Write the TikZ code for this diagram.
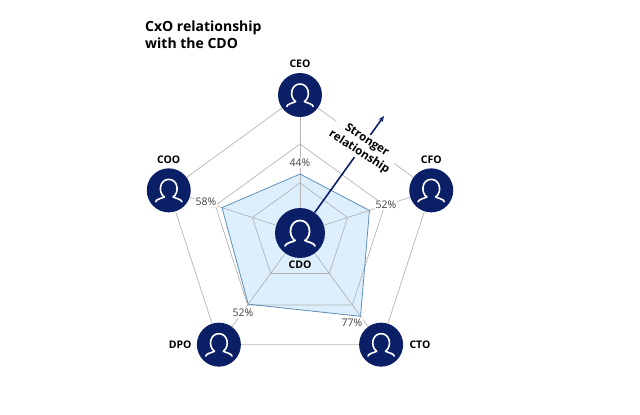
\documentclass[tikz,border=0pt]{standalone}
\usepackage{fontspec}
\setmainfont{Open Sans}
\usetikzlibrary{positioning,arrows.meta,backgrounds}
\definecolor{navy}{HTML}{0B1F66}
\definecolor{webgrey}{HTML}{B4B4B4}
\definecolor{areafill}{HTML}{DDEFFC}
\definecolor{arealine}{HTML}{5E8FB8}
\definecolor{pcttext}{HTML}{404040}
\def\person{(-0.6,-0.52) .. controls (-0.58,-0.4) and (-0.3,-0.36) .. (-0.2,-0.3) .. controls (-0.5,-0.1) and (-0.42,0.5) .. (0,0.5) .. controls (0.42,0.5) and (0.5,-0.1) .. (0.2,-0.3) .. controls (0.3,-0.36) and (0.58,-0.4) .. (0.6,-0.52)}
\def\ring#1{(90:#1) -- (18:#1) -- (-54:#1) -- (-126:#1) -- (162:#1) -- cycle}
\def\area{(90:59) -- (18:73) -- (-54:103) -- (-126:88) -- (162:82) -- cycle}

\begin{document}
\begin{tikzpicture}[x=1pt,y=1pt,
    cxo/.style={circle,fill=navy,minimum size=44pt,inner sep=0pt},
    role/.style={font=\fontsize{10.5}{12}\selectfont\bfseries,inner sep=1pt},
    pct/.style={font=\fontsize{10.5}{12}\selectfont,text=pcttext,fill=white,inner sep=1pt},
    web/.style={webgrey,line width=0.7pt},
    icon/.style={white,line width=1.6pt,line cap=round,line join=round}]
    \useasboundingbox (-300,-182) rectangle (340,233);
    \node[anchor=north west,align=left,inner sep=0pt,
        font=\fontsize{14}{16.5}\selectfont\bfseries] (title) at (-155,212) {CxO relationship\\with the CDO};
    % the five roles round the CDO
    \node[cxo,minimum size=50pt] (cdo) at (0,0) {};
    \node[cxo] (ceo) at (90:138) {};
    \node[cxo] (cfo) at (18:138) {};
    \node[cxo] (cto) at (-54:138) {};
    \node[cxo] (dpo) at (-126:138) {};
    \node[cxo] (coo) at (162:138) {};
    \foreach \n in {ceo,cfo,cto,dpo,coo}
        \draw[icon,shift={(\n.center)},scale=22] \person;
    \draw[icon,shift={(cdo.center)},scale=25,line width=1.8pt] \person;
    \begin{scope}[on background layer]
        \fill[areafill] \area;
        \draw[web] \ring{50};
        \draw[web] \ring{89};
        \foreach \n in {ceo,cfo,cto,dpo,coo}
            \draw[web] (cdo) -- (\n);
        \draw[web] (ceo) -- (cfo) -- (cto) -- (dpo) -- (coo) -- (ceo);
        \draw[arealine,line width=0.8pt] \area;
        \coordinate (tip) at (84,117);
        \draw[navy,line width=1.6pt,-{Stealth[length=6pt,width=5pt]}] (cdo) -- (tip);
    \end{scope}
    \node[role,fill=white,align=center,rotate=-33,
        font=\fontsize{11.5}{14}\selectfont\bfseries] (stronger) at (54:107) {Stronger\\relationship};
    % names
    \node[role,above=4pt of ceo] (ceoname) {CEO};
    \node[role,above=3pt of cfo] (cfoname) {CFO};
    \node[role,above=3pt of coo] (cooname) {COO};
    \node[role,left=4pt of dpo] (dponame) {DPO};
    \node[role,right=5pt of cto] (ctoname) {CTO};
    \node[role,below=1pt of cdo] (cdoname) {CDO};
    % values
    \node[pct] (vceo) at (0,70) {44\%};
    \node[pct] (vcfo) at (86,28) {52\%};
    \node[pct] (vcto) at (52,-90) {77\%};
    \node[pct] (vdpo) at (-57,-80) {52\%};
    \node[pct] (vcoo) at (-94,31) {58\%};
\end{tikzpicture}
\end{document}
